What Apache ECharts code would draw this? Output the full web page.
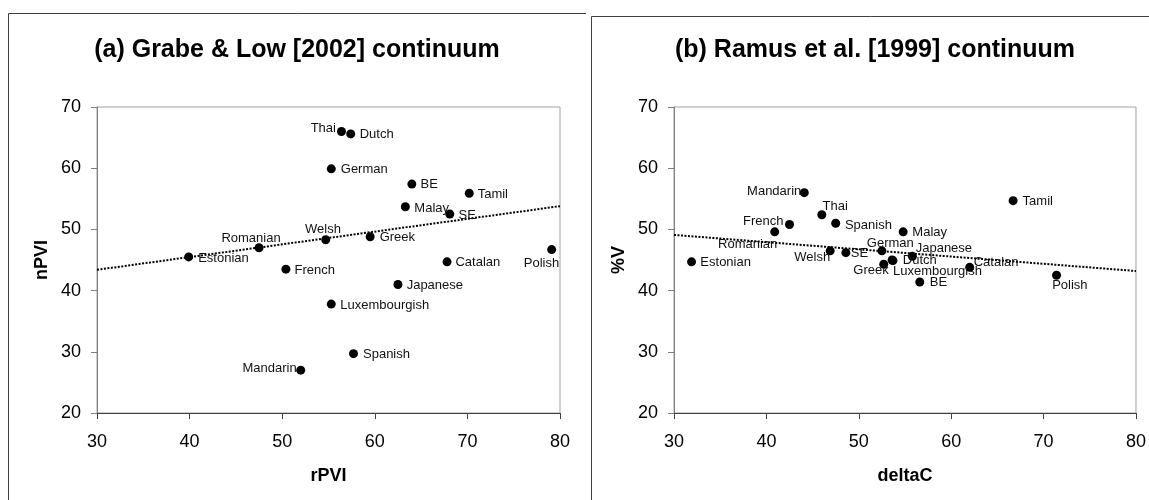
<!DOCTYPE html>
<html>
<head>
<meta charset="utf-8">
<script src="https://cdn.jsdelivr.net/npm/echarts@6/dist/echarts.min.js"></script>
<style>
html,body{margin:0;padding:0;background:#fff;}
#chart{width:1149px;height:500px;}
</style>
</head>
<body>
<div id="chart"></div>
<script>
// ---- data (a) Grabe & Low [2002] ----
const langA = ['Thai','Dutch','German','BE','Tamil','Malay','SE','Welsh','Greek','Romanian','Estonian','Polish','Catalan','French','Japanese','Luxembourgish','Spanish','Mandarin'];
const rPVI  = [56.4, 57.4, 55.3, 64.0, 70.2, 63.3, 68.1, 54.7, 59.5, 47.5, 39.9, 79.1, 67.8, 50.4, 62.5, 55.3, 57.7, 52.0];
const nPVI  = [66.0, 65.6, 59.9, 57.4, 55.9, 53.7, 52.5, 48.3, 48.8, 47.0, 45.5, 46.7, 44.7, 43.5, 41.0, 37.8, 29.7, 27.0];
const trendAx = [30, 80];
const trendAy = [43.4, 53.8];

// ---- data (b) Ramus et al. [1999] ----
const langB  = ['Mandarin','Tamil','Thai','French','Romanian','Spanish','Malay','Welsh','SE','German','Japanese','Dutch','Luxembourgish','Greek','Catalan','BE','Polish','Estonian'];
const deltaC = [44.1, 66.7, 46.0, 42.5, 40.9, 47.5, 54.8, 46.9, 48.6, 52.5, 55.8, 53.6, 53.7, 52.7, 62.0, 56.6, 71.4, 31.9];
const pctV   = [56.0, 54.7, 52.4, 50.8, 49.6, 51.0, 49.6, 46.5, 46.2, 46.5, 45.6, 45.0, 44.9, 44.3, 43.8, 41.4, 42.5, 44.7];
const trendBx = [30, 80];
const trendBy = [49.1, 43.2];

const xTicks = [30, 40, 50, 60, 70, 80];
const yTicks = [20, 30, 40, 50, 60, 70];

// ---- label placement (style only): [align, dx, dy] ----
const labA = {
  Thai:['right',-5.5,-3.3], Dutch:['left',9,0], German:['left',9.5,1], BE:['left',8.7,0.7],
  Tamil:['left',8.4,1.3], Malay:['left',9,1.3], SE:['left',8.7,1.3], Welsh:['center',-2.7,-10.3],
  Greek:['left',9.5,0.7], Romanian:['center',-8,-9.3], Estonian:['left',9.5,1.3], Polish:['center',-10.2,14],
  Catalan:['left',8.4,0.7], French:['left',8.7,1], Japanese:['left',8.7,1.3], Luxembourgish:['left',9,1.3],
  Spanish:['left',9.5,1], Mandarin:['right',-4,-1.7]
};
const labB = {
  Mandarin:['right',-3,-1], Tamil:['left',9.5,1], Thai:['left',0.7,-8.3], French:['right',-6,-2.7],
  Romanian:['right',2.6,12.7], Spanish:['left',9.2,1.7], Malay:['left',9.2,1], Welsh:['right',0,7],
  SE:['left',5,0.7], German:['center',8.4,-7.4], Japanese:['left',3.3,-7.7], Dutch:['left',10.7,0.7],
  Luxembourgish:['left',0,10.7], Greek:['right',5,6.4], Catalan:['left',4,-5], BE:['left',10,0.7],
  Polish:['left',-4.4,10], Estonian:['left',8.8,0.7]
};

const FONT = '"Liberation Sans", Arial, sans-serif';

function pts(names, xs, ys, lab) {
  return names.map((n, i) => {
    const l = lab[n];
    return {
      name: n,
      value: [xs[i], ys[i]],
      label: {show: true, position: 'inside', align: l[0], verticalAlign: 'middle', offset: [l[1], l[2]]}
    };
  });
}

function xAx(idx, name) {
  return {
    gridIndex: idx, type: 'value', min: xTicks[0], max: xTicks[xTicks.length-1], interval: 10,
    name: name, nameLocation: 'middle', nameGap: 54,
    nameTextStyle: {fontFamily: FONT, fontSize: 18, fontWeight: 'bold', color: '#000'},
    axisLine: {show: true, lineStyle: {color: '#404040', width: 1}},
    axisTick: {show: true, length: 6, lineStyle: {color: '#404040'}},
    axisLabel: {fontFamily: FONT, fontSize: 18, color: '#000', margin: 20},
    splitLine: {show: false}
  };
}
function yAx(idx, name) {
  return {
    gridIndex: idx, type: 'value', min: yTicks[0], max: yTicks[yTicks.length-1], interval: 10,
    name: name, nameLocation: 'middle', nameGap: 46,
    nameTextStyle: {fontFamily: FONT, fontSize: 18, fontWeight: 'bold', color: '#000'},
    axisLine: {show: true, lineStyle: {color: '#808080', width: 1}},
    axisTick: {show: true, length: 6, lineStyle: {color: '#808080'}},
    axisLabel: {fontFamily: FONT, fontSize: 18, color: '#000', margin: 16},
    splitLine: {show: false}
  };
}

const chart = echarts.init(document.getElementById('chart'), null, {renderer: 'canvas'});
chart.setOption({
  animation: false,
  backgroundColor: '#fff',
  textStyle: {fontFamily: FONT},
  title: [
    {text: '(a) Grabe & Low [2002] continuum', left: 297, top: 38, textAlign: 'center', padding: 0,
     textStyle: {fontFamily: FONT, fontSize: 25, fontWeight: 'bold', color: '#000'}},
    {text: '(b) Ramus et al. [1999] continuum', left: 875, top: 38, textAlign: 'center', padding: 0,
     textStyle: {fontFamily: FONT, fontSize: 25, fontWeight: 'bold', color: '#000'}}
  ],
  graphic: [
    {type: 'polyline', shape: {points: [[8.5, 500], [8.5, 13.5], [586, 13.5]]}, style: {stroke: '#404040', lineWidth: 1, fill: null}, silent: true},
    {type: 'polyline', shape: {points: [[591.5, 500], [591.5, 16.5], [1149, 16.5]]}, style: {stroke: '#404040', lineWidth: 1, fill: null}, silent: true}
  ],
  grid: [
    {left: 97, top: 107, width: 463, height: 306, show: true, borderColor: '#a0a0a0', borderWidth: 1, backgroundColor: 'transparent'},
    {left: 674, top: 107, width: 465, height: 306, show: true, borderColor: '#a0a0a0', borderWidth: 1, backgroundColor: 'transparent'}
  ],
  xAxis: [xAx(0, 'rPVI'), xAx(1, 'deltaC')],
  yAxis: [yAx(0, 'nPVI'), yAx(1, '%V')],
  series: [
    {type: 'line', xAxisIndex: 0, yAxisIndex: 0, data: trendAx.map((x, i) => [x, trendAy[i]]),
     showSymbol: false, symbol: 'none', lineStyle: {color: '#000', width: 2, type: [2, 1.5]}, z: 1, silent: true},
    {type: 'line', xAxisIndex: 1, yAxisIndex: 1, data: trendBx.map((x, i) => [x, trendBy[i]]),
     showSymbol: false, symbol: 'none', lineStyle: {color: '#000', width: 2, type: [2, 1.5]}, z: 1, silent: true},
    {type: 'scatter', xAxisIndex: 0, yAxisIndex: 0, data: pts(langA, rPVI, nPVI, labA),
     symbol: 'circle', symbolSize: 9, itemStyle: {color: '#000', opacity: 1}, z: 3,
     label: {formatter: '{b}', fontFamily: FONT, fontSize: 13, color: '#111'}},
    {type: 'scatter', xAxisIndex: 1, yAxisIndex: 1, data: pts(langB, deltaC, pctV, labB),
     symbol: 'circle', symbolSize: 9, itemStyle: {color: '#000', opacity: 1}, z: 3,
     label: {formatter: '{b}', fontFamily: FONT, fontSize: 13, color: '#111'}}
  ]
});
</script>
</body>
</html>
